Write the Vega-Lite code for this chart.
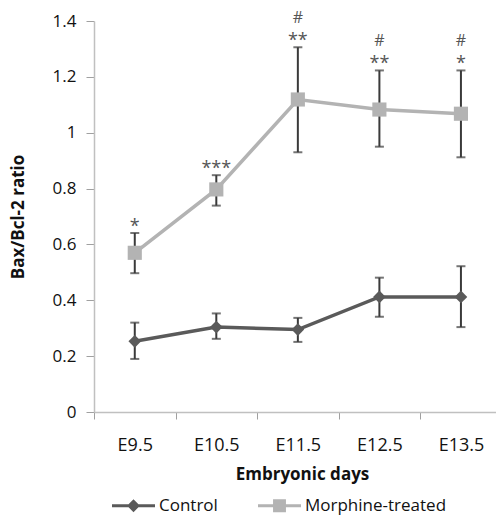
{
  "$schema": "https://vega.github.io/schema/vega-lite/v6.json",
  "width": 402,
  "height": 391,
  "autosize": {"type": "none"},
  "padding": {"left": 94, "top": 21, "right": 0, "bottom": 106},
  "config": {
    "font": "Open Sans",
    "view": {"stroke": null},
    "axis": {"grid": false, "domainColor": "#c0c0c0", "tickColor": "#a0a0a0", "labelColor": "#111111", "titleColor": "#111111", "labelFont": "Open Sans", "titleFont": "Open Sans"}
  },
  "data": {"values": [
    {"series": "Control", "day": 9.5, "value": 0.253, "lo": 0.19, "hi": 0.32, "stars": "", "hash": ""},
    {"series": "Control", "day": 10.5, "value": 0.304, "lo": 0.262, "hi": 0.353, "stars": "", "hash": ""},
    {"series": "Control", "day": 11.5, "value": 0.295, "lo": 0.251, "hi": 0.337, "stars": "", "hash": ""},
    {"series": "Control", "day": 12.5, "value": 0.412, "lo": 0.341, "hi": 0.481, "stars": "", "hash": ""},
    {"series": "Control", "day": 13.5, "value": 0.412, "lo": 0.304, "hi": 0.522, "stars": "", "hash": ""},
    {"series": "Morphine-treated", "day": 9.5, "value": 0.57, "lo": 0.497, "hi": 0.641, "stars": "*", "hash": ""},
    {"series": "Morphine-treated", "day": 10.5, "value": 0.797, "lo": 0.739, "hi": 0.848, "stars": "***", "hash": ""},
    {"series": "Morphine-treated", "day": 11.5, "value": 1.119, "lo": 0.93, "hi": 1.306, "stars": "**", "hash": "#"},
    {"series": "Morphine-treated", "day": 12.5, "value": 1.083, "lo": 0.95, "hi": 1.223, "stars": "**", "hash": "#"},
    {"series": "Morphine-treated", "day": 13.5, "value": 1.068, "lo": 0.912, "hi": 1.223, "stars": "*", "hash": "#"}
  ]},
  "encoding": {
    "x": {"field": "day", "type": "quantitative", "scale": {"domain": [9, 13.93], "nice": false, "zero": false}, "axis": null}
  },
  "resolve": {"axis": {"x": "independent"}},
  "layer": [
    {
      "mark": {"type": "rule", "strokeWidth": 2, "color": "#3a3a3a"},
      "encoding": {
        "x": {"field": "day", "type": "quantitative", "scale": {"domain": [9, 13.93], "nice": false, "zero": false}, "axis": {"orient": "bottom", "values": [9, 10, 11, 12, 13], "labels": false, "title": null, "tickSize": 7, "domainWidth": 1.5}},
        "y": {"field": "lo", "type": "quantitative", "scale": {"domain": [0, 1.4], "nice": false},
          "axis": {"values": [0, 0.2, 0.4, 0.6, 0.8, 1, 1.2, 1.4], "format": "~g", "tickSize": 8, "labelPadding": 10, "labelFontSize": 17, "title": "Bax/Bcl-2 ratio", "titleFontSize": 17, "titleFontWeight": "bold", "titlePadding": 25, "domainWidth": 1.5}},
        "y2": {"field": "hi"}
      }
    },
    {
      "mark": {"type": "tick", "orient": "horizontal", "thickness": 2, "size": 9, "color": "#3a3a3a"},
      "encoding": {"y": {"field": "lo", "type": "quantitative"}}
    },
    {
      "mark": {"type": "tick", "orient": "horizontal", "thickness": 2, "size": 9, "color": "#3a3a3a"},
      "encoding": {"y": {"field": "hi", "type": "quantitative"}}
    },
    {
      "mark": {"type": "line", "strokeWidth": 3.5},
      "encoding": {
        "x": {"field": "day", "type": "quantitative", "scale": {"domain": [9, 13.93], "nice": false, "zero": false}, "axis": {"orient": "bottom", "values": [9.5, 10.5, 11.5, 12.5, 13.5], "labelExpr": "'E' + format(datum.value, '.1f')", "ticks": false, "domain": false, "labelPadding": 24, "labelFontSize": 18, "title": "Embryonic days", "titleFontSize": 17, "titleFontWeight": "bold", "titlePadding": 12, "titleX": 208}},
        "y": {"field": "value", "type": "quantitative"},
        "color": {"field": "series", "type": "nominal", "scale": {"domain": ["Control", "Morphine-treated"], "range": ["#5a5a5a", "#b3b3b3"]},
          "legend": {"orient": "none", "legendX": 18, "legendY": 463, "direction": "horizontal", "title": null, "symbolSize": 1849, "labelFontSize": 17, "labelColor": "#111111", "labelOffset": 4, "columnPadding": 40,
            "encode": {"symbols": {"update": {"shape": {"signal": "datum.value === 'Control' ? 'M-1,-0.07H1V0.07H-1Z M-0.3,0L0,-0.3L0.3,0L0,0.3Z' : 'M-1,-0.07H1V0.07H-1Z M-0.3,-0.3H0.3V0.3H-0.3Z'"}, "fill": {"scale": "color", "field": "value"}, "strokeWidth": {"value": 0}, "opacity": {"value": 1}}}}}}
      }
    },
    {
      "transform": [{"filter": "datum.series == 'Control'"}],
      "mark": {"type": "point", "filled": true, "opacity": 1, "shape": "diamond", "size": 160, "color": "#5a5a5a"},
      "encoding": {"y": {"field": "value", "type": "quantitative"}}
    },
    {
      "transform": [{"filter": "datum.series == 'Morphine-treated'"}],
      "mark": {"type": "point", "filled": true, "opacity": 1, "shape": "square", "size": 200, "color": "#b3b3b3"},
      "encoding": {"y": {"field": "value", "type": "quantitative"}}
    },
    {
      "transform": [{"filter": "datum.stars != ''"}],
      "mark": {"type": "text", "fontSize": 18, "color": "#555555", "baseline": "alphabetic", "dy": -1, "letterSpacing": 4},
      "encoding": {"y": {"field": "hi", "type": "quantitative"}, "text": {"field": "stars"}}
    },
    {
      "transform": [{"filter": "datum.hash != ''"}],
      "mark": {"type": "text", "fontSize": 16, "color": "#555555", "baseline": "alphabetic", "dy": -24},
      "encoding": {"y": {"field": "hi", "type": "quantitative"}, "text": {"field": "hash"}}
    }
  ]
}
